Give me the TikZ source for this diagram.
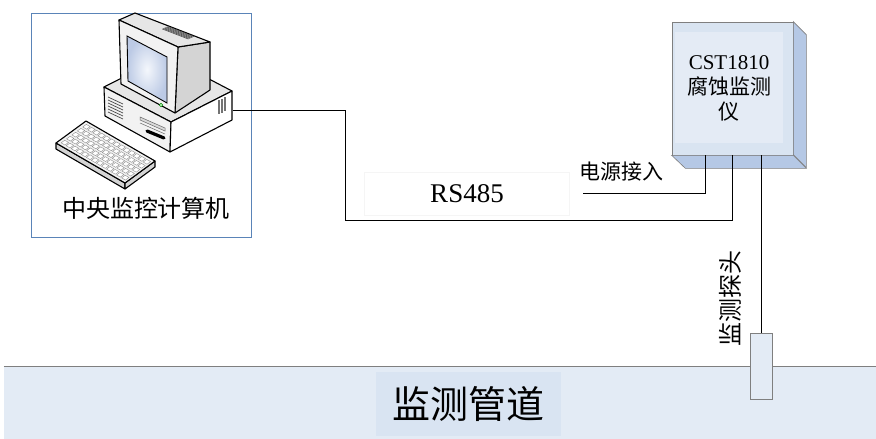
\documentclass[tikz,border=0pt]{standalone}
\usepackage{fontspec}
\setmainfont{Liberation Serif}
\newfontfamily\cjk{Noto Sans CJK SC}
\definecolor{frameblue}{HTML}{5A84B8}
\definecolor{devface}{HTML}{D9E4F1}
\definecolor{devinner}{HTML}{E4EBF5}
\definecolor{devside}{HTML}{B5C8E5}
\definecolor{devedge}{HTML}{7F7F7F}
\definecolor{pipefill}{HTML}{E3EBF5}
\definecolor{pipelabel}{HTML}{D9E4F2}
\definecolor{scrlight}{HTML}{F4F7FC}
\definecolor{scrdark}{HTML}{BCCAE5}
\definecolor{pcface}{HTML}{F2F2F2}
\definecolor{pcside}{HTML}{D4D4D4}
\definecolor{pctop}{HTML}{E6E6E6}
\begin{document}
\begin{tikzpicture}[x=1pt,y=-1pt,
  wire/.style={draw=black,line width=1pt},
  outl/.style={draw=black,line width=1.1pt,line join=round},
  keycap/.style={draw=black!45,fill=white,line width=0.4pt},
  cjklabel/.style={font=\cjk\fontsize{#1}{#1}\selectfont,inner sep=0pt},
  thinedge/.style={draw=devedge,line width=0.6pt},
  devbox/.style={thinedge,fill=devface,minimum width=121pt,minimum height=133pt,inner sep=0pt},
  pipeband/.style={fill=pipefill,minimum width=872pt,minimum height=72pt,inner sep=0pt},
  pcframe/.style={draw=frameblue,line width=0.9pt,minimum width=220pt,minimum height=224pt,inner sep=0pt}]
\useasboundingbox (0,0) rectangle (876,439);
\fill[white] (0,0) rectangle (876,439);

% pipeline band
\node[pipeband] (pipe) at (440,403) {};
\draw[devedge,line width=0.8pt] (pipe.north west) -- (pipe.north east);
\node[fill=pipelabel,minimum width=185pt,minimum height=64pt,cjklabel=38] (pipename) at (468,404) {监测管道};

% central computer frame
\node[pcframe] (pc) at (141,125) {};
\node[cjklabel=24] (pcname) at (146,208) {中央监控计算机};

% ---- computer case ----
\path[outl,fill=pctop] (104,87) -- (165,56) -- (232,91) -- (171,122) -- cycle;
\path[outl,fill=pcface] (104,87) -- (171,122) -- (170,152) -- (105,116) -- cycle;
\path[outl,fill=white] (171,122) -- (232,91) -- (232,120) -- (170,152) -- cycle;
\foreach \k in {0,...,5}
  \draw[black!70,line width=0.7pt] (108,{97+3*\k}) -- ++(15,7);
\path[draw=black!60,fill=black!15,line width=0.5pt] (140,117) -- (165,128) -- (165,131) -- (140,120) -- cycle;
\draw[black!60,line width=0.5pt] (140,123) -- (165,134);
\draw[line width=3.2pt,line cap=round] (147,131) -- (164,138);
\foreach \k in {0,1,2}
  \draw[black!55,line width=1.4pt] ({219+3*\k},{100-1.5*\k}) -- ++(0,14);

% ---- monitor ----
\path[outl,fill=pcside] (178,47) -- (210,42) -- (210,90) -- (175,113) -- cycle;
\path[outl,fill=pctop] (119,20) -- (135,13) -- (210,42) -- (178,47) -- cycle;
\foreach \t in {0.06,0.13,0.20,0.27,0.34,0.41}
  \draw[black!70,line width=0.6pt]
    ({135+75*0.45-16*\t},{13+29*0.45+7*\t}) -- ({135+75*0.8-16*\t},{13+29*0.8+7*\t});
\path[outl,fill=pcface] (119,20) -- (178,47) -- (175,113) -- (121,84) -- cycle;
\path[draw=black,line width=0.9pt,inner color=scrlight,outer color=scrdark]
  (127,36) -- (167,57) -- (167,103) -- (128,81) -- cycle;
\draw[green!50!black,fill=green!25,line width=0.6pt] (161,105) circle (1.7);

% ---- keyboard ----
\path[outl,fill=pcside] (56,143) -- (125,183) -- (125,189) -- (56,149) -- cycle;
\path[outl,fill=pcside] (125,183) -- (155,161) -- (155,167) -- (125,189) -- cycle;
\path[outl,fill=pcface] (56,143) -- (86,121) -- (155,161) -- (125,183) -- cycle;
\begin{scope}[shift={(56,143)},x={(69pt,-40pt)},y={(30pt,22pt)}]
  \foreach \i in {0,...,12}
    \foreach \j in {0,...,4}
      \path[keycap] ({0.04+0.073*\i},{0.08+0.18*\j}) -- ++(0.055,0) -- ++(0,0.12) -- ++(-0.055,0) -- cycle;
\end{scope}

% ---- corrosion monitor ----
\node[devbox] (dev) at (732.5,88.5) {};
\fill[devinner] (675,32) rectangle (783,143);
\path[thinedge,fill=devside] (dev.north east) -- ++(13,13) -- ++(0,133) -- ++(-13,-13) -- cycle;
\path[thinedge,fill=devside] (dev.south west) -- (dev.south east) -- ++(13,13) -- ++(-121,0) -- cycle;
\node[align=center,inner sep=0pt,font=\fontsize{21}{25}\selectfont] (devname) at (729,88)
  {CST1810\\{\cjk 腐蚀监测}\\{\cjk 仪}};

% probe
\node[thinedge,fill=pipefill,minimum width=22pt,minimum height=66pt,inner sep=0pt] (probe) at (761,366) {};
\node[cjklabel=24,rotate=90] (probename) at (730,298) {监测探头};

% labels
\node[draw=black!4,line width=0.5pt,minimum width=205pt,minimum height=43pt,inner sep=0pt,
      font=\fontsize{27}{27}\selectfont] (rs) at (467,194) {RS485};
\node[cjklabel=21] (pwr) at (621,172) {电源接入};

% wiring
\coordinate (pcport) at (233,110);
\coordinate (rsturn) at (345,220);
\coordinate (rsin) at (732,155);
\coordinate (pwrend) at (583,193);
\coordinate (pwrin) at (705,155);
\coordinate (probeout) at (761,155);
\draw[wire] (pcport) -| (rsturn) -| (rsin);
\draw[wire] (pwrend) -| (pwrin);
\draw[wire] (probeout) -- (probe.north);
\end{tikzpicture}
\end{document}
